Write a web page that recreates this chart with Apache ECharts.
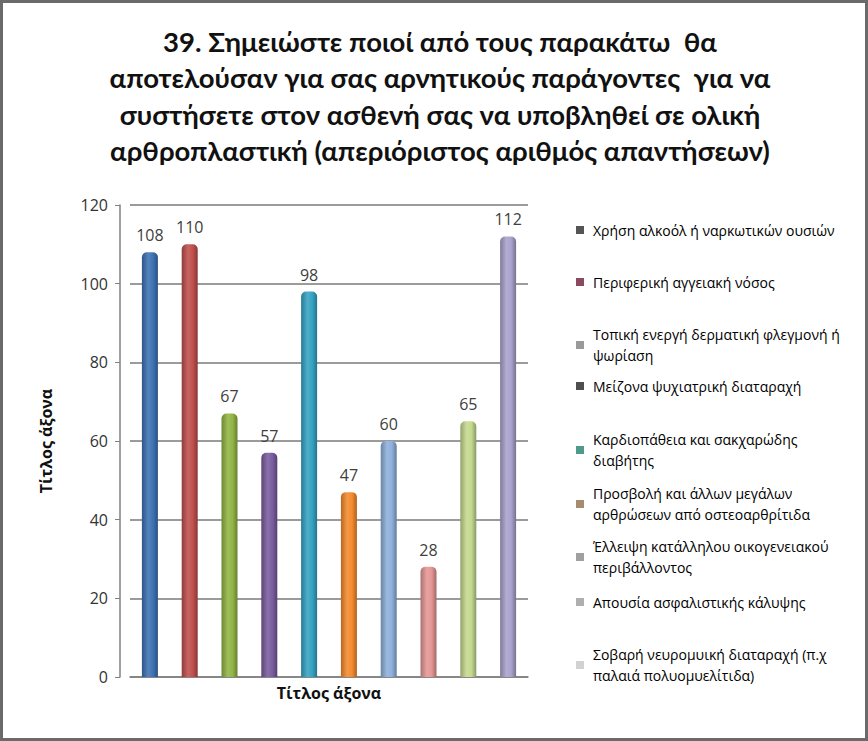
<!DOCTYPE html>
<html>
<head>
<meta charset="utf-8">
<script src="https://cdn.jsdelivr.net/npm/echarts@6/dist/echarts.min.js"></script>
<style>
html,body{margin:0;padding:0;background:#fff;}
#chart{width:868px;height:741px;}
</style>
</head>
<body>
<div id="chart"></div>
<script>
// ---- data ----
const titleLines = [
  "39. Σημειώστε ποιοί από τους παρακάτω  θα",
  "αποτελούσαν για σας αρνητικούς παράγοντες  για να",
  "συστήσετε στον ασθενή σας να υποβληθεί σε ολική",
  "αρθροπλαστική (απεριόριστος αριθμός απαντήσεων)"
];
const categories = [
  "Χρήση αλκοόλ ή ναρκωτικών ουσιών",
  "Περιφερική αγγειακή νόσος",
  "Τοπική ενεργή δερματική φλεγμονή ή ψωρίαση",
  "Μείζονα ψυχιατρική διαταραχή",
  "Καρδιοπάθεια και σακχαρώδης διαβήτης",
  "Προσβολή και άλλων μεγάλων αρθρώσεων από οστεοαρθρίτιδα",
  "Έλλειψη κατάλληλου οικογενειακού περιβάλλοντος",
  "Απουσία ασφαλιστικής κάλυψης",
  "Σοβαρή νευρομυική διαταραχή (π.χ παλαιά πολυομυελίτιδα)",
  "Άλλο"
];
const values = [108, 110, 67, 57, 98, 47, 60, 28, 65, 112];
// legend display text (as wrapped in the reference), first 9 categories shown
const legendText = [
  "Χρήση αλκοόλ ή ναρκωτικών ουσιών",
  "Περιφερική αγγειακή νόσος",
  "Τοπική ενεργή δερματική φλεγμονή ή\nψωρίαση",
  "Μείζονα ψυχιατρική διαταραχή",
  "Καρδιοπάθεια και σακχαρώδης\nδιαβήτης",
  "Προσβολή και άλλων μεγάλων\nαρθρώσεων από οστεοαρθρίτιδα",
  "Έλλειψη κατάλληλου οικογενειακού\nπεριβάλλοντος",
  "Απουσία ασφαλιστικής κάλυψης",
  "Σοβαρή νευρομυική διαταραχή (π.χ\nπαλαιά πολυομυελίτιδα)"
];
const yTicks = [0, 20, 40, 60, 80, 100, 120];

// ---- styles ----
const barColors = ['#3D72B4','#C0504D','#92B545','#7A5CA0','#35A3C4','#F58A2E','#8FB0DC','#E49694','#C5D98E','#A9A2CC'];
const legendIconColors = ['#555555','#8C4A5E','#9A9A9A','#4F4F4F','#4E9A8C','#A88C70','#A0A0A0','#AFAFAF','#D2D2D2'];
const legendFirstLineY = [230, 282, 335, 386, 440, 494, 547, 602, 655];
const LH = 20.5;

function shade(hex, f) {
  const n = parseInt(hex.slice(1), 16);
  let r = (n >> 16) & 255, g = (n >> 8) & 255, b = n & 255;
  const m = c => Math.max(0, Math.min(255, Math.round(f < 0 ? c * (1 + f) : c + (255 - c) * f)));
  return 'rgb(' + m(r) + ',' + m(g) + ',' + m(b) + ')';
}
function cyl(hex) {
  return {
    type: 'linear', x: 0, y: 0, x2: 1, y2: 0,
    colorStops: [
      {offset: 0, color: shade(hex, -0.25)},
      {offset: 0.4, color: shade(hex, 0.12)},
      {offset: 0.7, color: hex},
      {offset: 1, color: shade(hex, -0.3)}
    ]
  };
}

const chart = echarts.init(document.getElementById('chart'), null, {renderer: 'svg'});

const series = categories.map((name, i) => ({
  name: name,
  type: 'bar',
  stack: 'one',
  barWidth: 16,
  data: values.map((v, j) => (j === i ? v : '-')),
  itemStyle: {color: cyl(barColors[i]), borderRadius: [5, 5, 0, 0]},
  label: {
    show: true, position: 'top', distance: 9,
    color: '#404040', fontSize: 16, fontFamily: 'Open Sans'
  },
  emphasis: {disabled: true}
}));

const legends = legendText.map((txt, i) => {
  const twoLine = txt.indexOf('\n') >= 0;
  return {
    orient: 'vertical',
    left: 571,
    top: legendFirstLineY[i] - (twoLine ? 1.5 * LH - 5 : 0.5 * LH + 5),
    itemWidth: 8, itemHeight: 8,
    icon: 'rect',
    selectedMode: false,
    data: [{name: categories[i], itemStyle: {color: legendIconColors[i]}}],
    formatter: () => txt,
    textStyle: {
      fontFamily: 'Open Sans', fontSize: 14, color: '#000',
      lineHeight: LH,
      padding: twoLine ? [LH, 0, 0, 4] : [0, 0, 0, 4]
    }
  };
});

chart.setOption({
  backgroundColor: '#ffffff',
  animation: false,
  title: {
    text: titleLines.join('\n'),
    left: 435, textAlign: 'center', top: 18,
    textStyle: {
      fontFamily: 'Lato', fontWeight: 'bold', fontSize: 27.5,
      lineHeight: 36.5, color: '#111'
    }
  },
  legend: legends,
  grid: {left: 130, top: 205, width: 398, height: 472},
  xAxis: {
    type: 'category',
    data: categories,
    axisLine: {show: true, lineStyle: {color: '#808080', width: 1.5}},
    axisTick: {show: false},
    axisLabel: {show: false},
    name: 'Τίτλος άξονα',
    nameLocation: 'middle',
    nameGap: 8,
    nameTextStyle: {fontFamily: 'Open Sans', fontWeight: 'bold', fontSize: 16, color: '#111'}
  },
  yAxis: {
    type: 'value',
    min: yTicks[0], max: yTicks[yTicks.length - 1], interval: 20,
    offset: 10,
    axisLine: {show: true, lineStyle: {color: '#808080', width: 1.5}},
    axisTick: {show: true, length: 5, lineStyle: {color: '#808080'}},
    axisLabel: {fontFamily: 'Open Sans', fontSize: 16, color: '#333', margin: 12},
    splitLine: {show: true, lineStyle: {color: '#7a7a7a', width: 1.5}},
    name: 'Τίτλος άξονα',
    nameLocation: 'middle',
    nameGap: 66,
    nameTextStyle: {fontFamily: 'Open Sans', fontWeight: 'bold', fontSize: 16, color: '#111'}
  },
  graphic: [{
    type: 'rect', silent: true,
    shape: {x: 1.5, y: 1.5, width: 865, height: 738},
    style: {fill: 'none', stroke: '#6a6a6a', lineWidth: 3}
  }],
  series: series
});
</script>
</body>
</html>
